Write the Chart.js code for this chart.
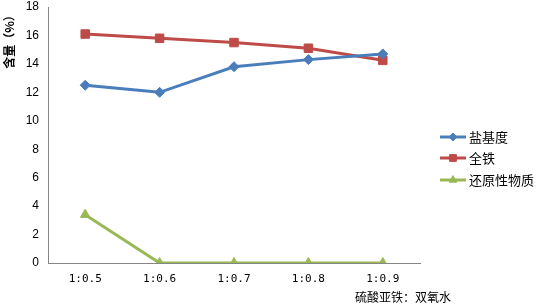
<!DOCTYPE html>
<html>
<head>
<meta charset="utf-8">
<script src="https://cdn.jsdelivr.net/npm/chart.js@4"></script>
<style>
  html, body { margin: 0; padding: 0; background: #fff; }
  #wrap { width: 537px; height: 307px; position: relative; }
</style>
</head>
<body>
<div id="wrap"><canvas id="chart"></canvas></div>
<script>
// chart data
const categories = ['1:0.5', '1:0.6', '1:0.7', '1:0.8', '1:0.9']
const seriesNames = ['盐基度', '全铁', '还原性物质']
const basicity = [12.5, 12.0, 13.8, 14.3, 14.7]
const totalIron = [16.1, 15.8, 15.5, 15.1, 14.25]
const reducing = [3.4, 0, 0, 0, 0]
const yTicks = [0, 2, 4, 6, 8, 10, 12, 14, 16, 18]

const colors = ['#4A7EBB', '#BE4B48', '#98B954']
const markers = ['rectRot', 'rect', 'triangle']
const sizes = [5, 6, 5.5]

// legend on the right (line + marker + label) and the two axis titles
const extras = {
    id: 'extras',
    afterDraw(chart) {
        const ctx = chart.ctx
        const x0 = 440
        const rows = [137, 158, 180]
        ctx.save()
        chart.data.datasets.forEach((ds, i) => {
            const y = rows[i]
            ctx.strokeStyle = ds.borderColor
            ctx.lineWidth = 3
            ctx.beginPath()
            ctx.moveTo(x0, y)
            ctx.lineTo(x0 + 26, y)
            ctx.stroke()
            ctx.fillStyle = ds.borderColor
            ctx.lineWidth = 1
            Chart.helpers.drawPoint(ctx, {
                pointStyle: ds.pointStyle,
                rotation: 0,
                radius: ds.pointRadius * 0.8,
                borderWidth: 1
            }, x0 + 13, y)
            ctx.fillStyle = '#000'
            ctx.font = '13px "Noto Sans CJK SC"'
            ctx.textAlign = 'left'
            ctx.textBaseline = 'middle'
            ctx.fillText(ds.label, x0 + 29, y)
        })
        // x axis title
        ctx.font = '12px "Noto Sans CJK SC"'
        ctx.fillText('硫酸亚铁：双氧水', 355, 297)
        // y axis title, rotated
        ctx.translate(9, 39)
        ctx.rotate(-Math.PI / 2)
        ctx.textAlign = 'center'
        ctx.font = 'bold 12px "Noto Sans CJK SC"'
        ctx.fillText('含量（%）', 0, 0)
        ctx.restore()
    }
}

const seriesData = [basicity, totalIron, reducing]

new Chart(document.getElementById('chart'), {
    type: 'line',
    data: {
        labels: categories,
        datasets: seriesData.map((d, i) => ({
            label: seriesNames[i],
            data: d,
            borderColor: colors[i],
            backgroundColor: colors[i],
            borderWidth: 3,
            pointStyle: markers[i],
            pointRadius: sizes[i],
            pointHoverRadius: sizes[i],
            pointBorderWidth: 1,
            tension: 0
        }))
    },
    options: {
        responsive: true,
        maintainAspectRatio: false,
        animation: false,
        layout: { padding: { top: 0, right: 117, bottom: 0, left: 0 } },
        plugins: {
            legend: { display: false },
            tooltip: { enabled: false }
        },
        scales: {
            x: {
                offset: true,
                grid: { display: false, drawTicks: true, tickLength: 5 },
                border: { color: '#868686', width: 1 },
                ticks: {
                    color: '#000',
                    font: { family: '"DejaVu Sans Mono"', size: 11 },
                    padding: 5,
                    maxRotation: 0
                },
                afterFit(scale) { scale.height = 44 }
            },
            y: {
                min: 0,
                max: 18,
                afterBuildTicks(scale) {
                    scale.ticks = yTicks.map(v => ({ value: v }))
                },
                grid: { display: false, drawTicks: true, tickLength: 5 },
                border: { color: '#868686', width: 1 },
                ticks: {
                    color: '#000',
                    font: { family: 'Liberation Sans', size: 12 },
                    padding: 4
                },
                afterFit(scale) {
                    scale.width = 48
                    scale.paddingTop = 7
                }
            }
        }
    },
    plugins: [extras]
})
</script>
</body>
</html>
